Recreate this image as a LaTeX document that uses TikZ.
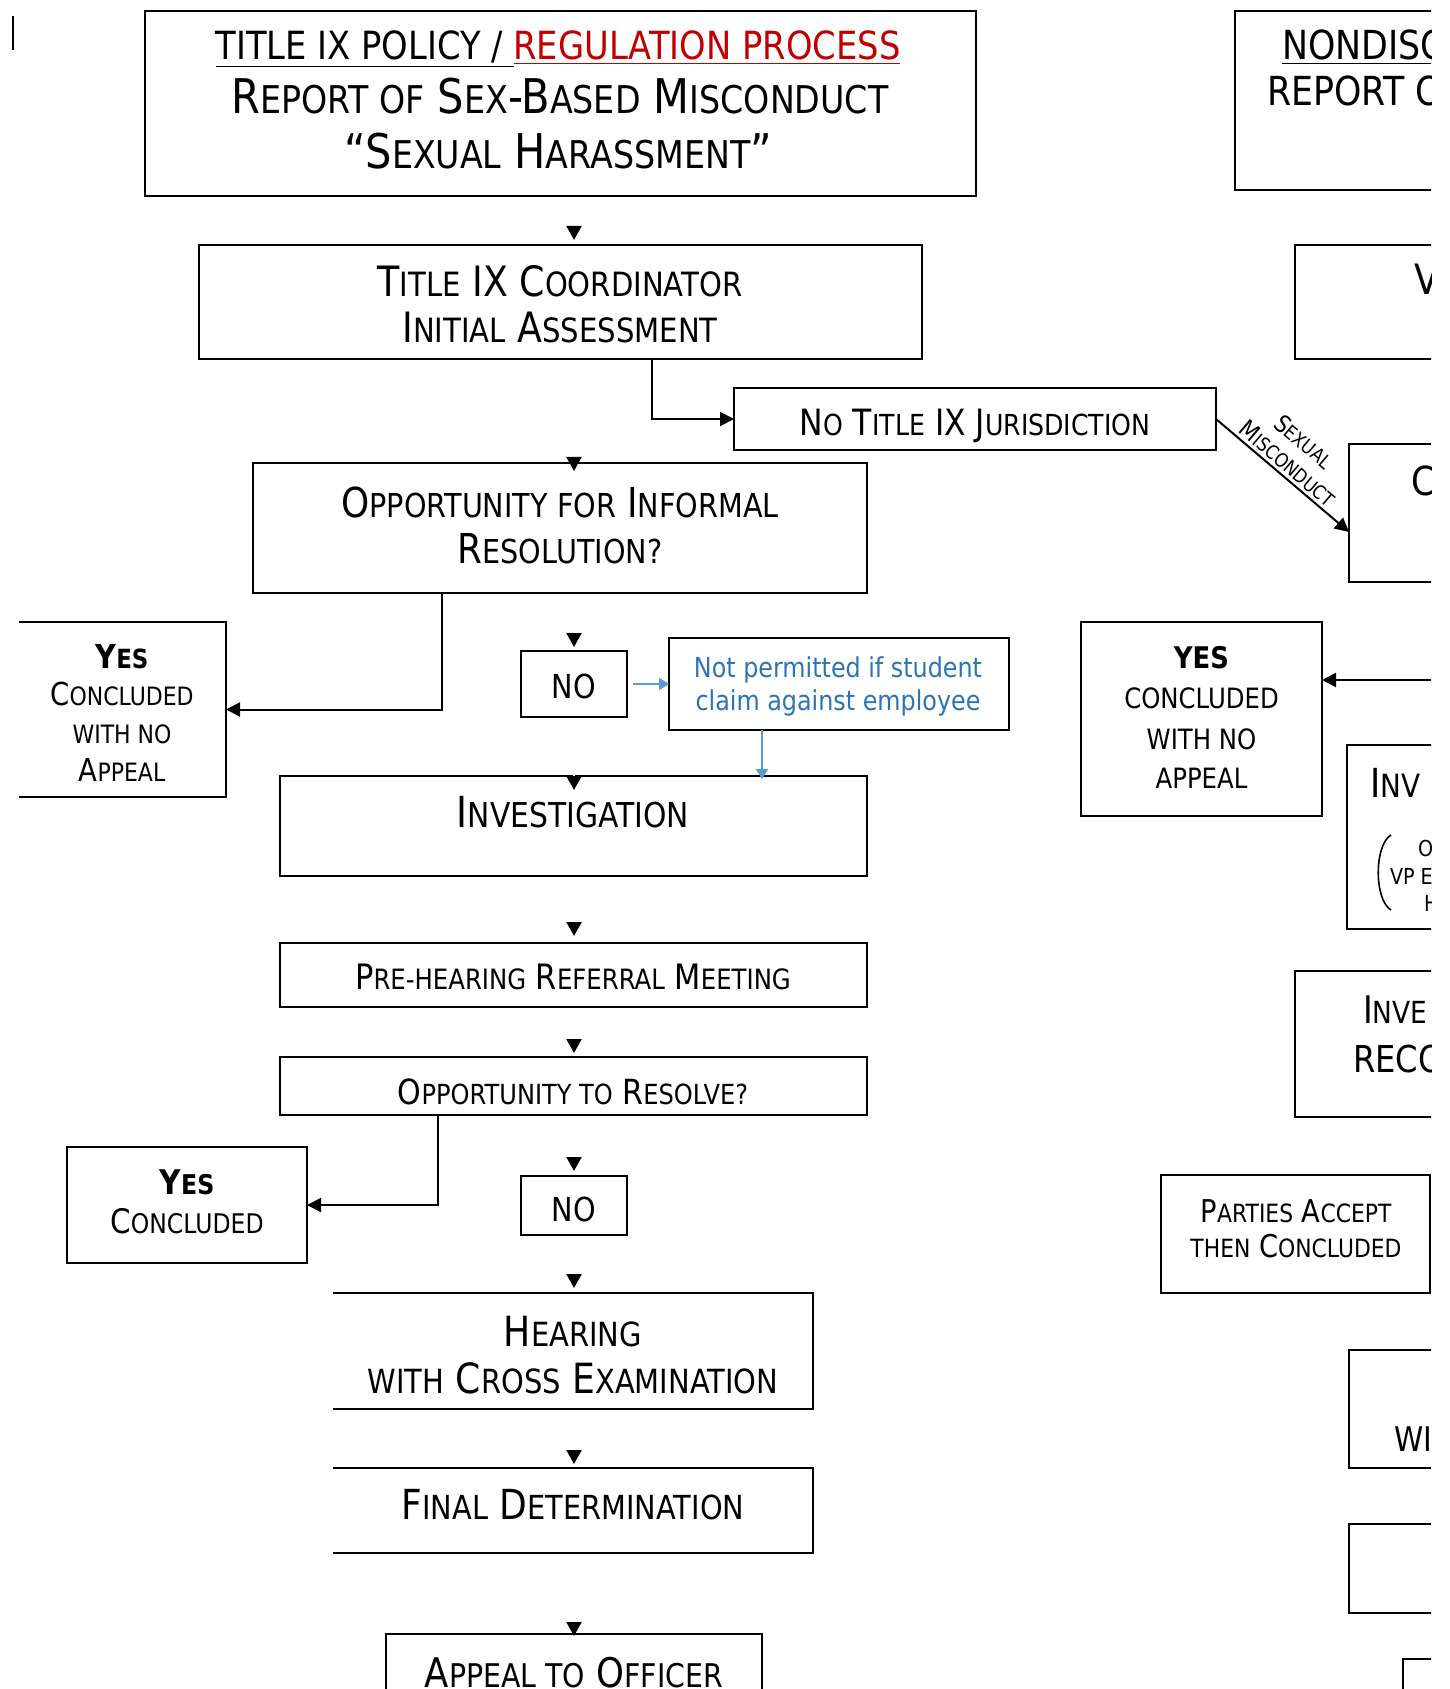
\documentclass[tikz,border=0pt]{standalone}
\usepackage{fontspec}
\setmainfont{DejaVu Sans}[FakeStretch=0.87]
\usepackage{graphicx}
\usetikzlibrary{arrows.meta,calc}
\definecolor{tixred}{RGB}{192,0,0}
\definecolor{tixblue}{RGB}{46,116,181}
\definecolor{arrblue}{RGB}{91,155,213}
\newcommand\sk[1]{\scalebox{0.8}{#1}}
\newcommand\fs[1]{\fontsize{#1}{#1}\selectfont}
\begin{document}
\begin{tikzpicture}[x=0.5pt,y=-0.5pt,
 box/.style={draw, line width=1pt, inner sep=0pt, outer sep=0pt},
 openbox/.style={inner sep=0pt, outer sep=0pt},
 txt/.style={inner sep=0pt, outer sep=0pt, anchor=base},
 txtl/.style={inner sep=0pt, outer sep=0pt, anchor=base west},
 conn/.style={line width=1pt, -{Triangle[length=7pt,width=7pt]}},
 hid/.style={draw=white, line width=1pt, shorten <=2pt, -{Triangle[length=7pt,width=7.5pt,black]}},
 blu/.style={draw=arrblue, line width=1pt, -{Triangle[length=5pt,width=6pt,arrblue]}},
 edge3/.style={line width=1pt}
]
\useasboundingbox (0,0) rectangle (1449,1689);
\fill[white] (0,0) rectangle (1449,1689);
\begin{scope}
\clip (0,0) rectangle (1431,1689);

% cursor bar
\draw[line width=1.2pt] (13,16) -- (13,50);

% helper coordinates
\coordinate (spine) at (574,0);
\coordinate (ex1) at (652,0);
\coordinate (ex2) at (442,0);
\coordinate (ex3) at (438,0);
\coordinate (bx) at (762,0);
\coordinate (rfree) at (1470,680);

% ---------- left column boxes ----------
\node[box, minimum width=415.5pt, minimum height=92.5pt] (title) at (560.5,103.5) {};
\node[box, minimum width=361.5pt, minimum height=57pt] (coord) at (560.5,302) {};
\node[box, minimum width=241pt, minimum height=31pt] (notitle) at (975,419) {};
\node[box, minimum width=307pt, minimum height=65pt] (opp) at (560,528) {};
\node[openbox, minimum width=103.5pt, minimum height=87.5pt] (yes1) at (122.5,709.5) {};
\draw[edge3] (yes1.north west) -- (yes1.north east) -- (yes1.south east) -- (yes1.south west);
\node[box, minimum width=53pt, minimum height=33pt] (no1) at (574,684) {};
\node[box, minimum width=170pt, minimum height=46pt] (notperm) at (839,684) {};
\node[box, minimum width=293.5pt, minimum height=50pt] (inv) at (573.5,826) {};
\node[box, minimum width=293.5pt, minimum height=32pt] (pre) at (573.5,975) {};
\node[box, minimum width=293.5pt, minimum height=29pt] (opp2) at (573.5,1086) {};
\node[box, minimum width=120pt, minimum height=58pt] (yes2) at (187,1205) {};
\node[box, minimum width=53pt, minimum height=29.5pt] (no2) at (574,1205.5) {};
\node[openbox, minimum width=240pt, minimum height=58pt] (hear) at (573,1351) {};
\draw[edge3] (hear.north west) -- (hear.north east) -- (hear.south east) -- (hear.south west);
\node[openbox, minimum width=240pt, minimum height=42.5pt] (final) at (573,1510.5) {};
\draw[edge3] (final.north west) -- (final.north east) -- (final.south east) -- (final.south west);
\node[box, minimum width=188pt, minimum height=33pt] (appeal) at (574,1667) {};

% ---------- right column boxes ----------
\node[box, minimum width=132.5pt, minimum height=89.5pt] (nondisc) at (1367.5,100.5) {};
\node[box, minimum width=102.5pt, minimum height=57pt] (vbox) at (1397.5,302) {};
\node[box, minimum width=75.5pt, minimum height=69pt] (cbox) at (1424.5,513) {};
\node[box, minimum width=120.5pt, minimum height=97pt] (yes3) at (1201.5,719) {};
\node[box, minimum width=76.5pt, minimum height=92pt] (invbox) at (1423.5,837) {};
\node[box, minimum width=102.5pt, minimum height=73pt] (invebox) at (1397.5,1044) {};
\node[box, minimum width=134.5pt, minimum height=59pt] (parties) at (1295.5,1234) {};
\node[box, minimum width=75.5pt, minimum height=59pt] (wibox) at (1424.5,1409) {};
\node[box, minimum width=75.5pt, minimum height=44.5pt] (emptybox) at (1424.5,1568.5) {};
\node[box, minimum width=48.5pt, minimum height=30.5pt] (lastbox) at (1451.5,1689.5) {};

% ---------- texts left ----------
\node[txt, font=\fs{19.4}] (t1a) at (558,60) {\underline{TITLE IX POLICY / }\textcolor{tixred}{\underline{REGULATION PROCESS}}};
\node[txt, font=\fs{23.9}] (t1b) at (560,114) {R\sk{EPORT OF} S\sk{EX}-B\sk{ASED} M\sk{ISCONDUCT}};
\node[txt, font=\fs{23.9}] (t1c) at (558,169) {“S\sk{EXUAL} H\sk{ARASSMENT}”};

\node[txt, font=\fs{20.9}] (c1) at (560,297) {T\sk{ITLE} IX C\sk{OORDINATOR}};
\node[txt, font=\fs{20.9}] (c2) at (560,343) {I\sk{NITIAL} A\sk{SSESSMENT}};

\node[txt, font=\fs{18.1}] (nt) at (975,436) {N\sk{O} T\sk{ITLE} IX J\sk{URISDICTION}};

\node[txt, font=\fs{20.6}] (o1) at (560,517) {O\sk{PPORTUNITY FOR} I\sk{NFORMAL}};
\node[txt, font=\fs{20.6}] (o2) at (560,563) {R\sk{ESOLUTION?}};

\node[txt, font=\fs{16.5}] (y1a) at (122,668) {\textbf{Y\sk{ES}}};
\node[txt, font=\fs{15.8}] (y1b) at (122,705) {C\sk{ONCLUDED}};
\node[txt, font=\fs{15.8}] (y1c) at (122,743) {\sk{WITH NO}};
\node[txt, font=\fs{15.8}] (y1d) at (122,781) {A\sk{PPEAL}};

\node[txt, font=\fs{16.5}] (n1) at (574,698) {NO};
\node[txt, font=\fs{13.7}, text=tixblue] (np1) at (838,677) {Not permitted if student};
\node[txt, font=\fs{13.7}, text=tixblue] (np2) at (838,710) {claim against employee};

\node[txt, font=\fs{21.4}] (ivt) at (573,827) {I\sk{NVESTIGATION}};
\node[txt, font=\fs{17.5}] (prt) at (573,989) {P\sk{RE-HEARING} R\sk{EFERRAL} M\sk{EETING}};
\node[txt, font=\fs{17.3}] (o3) at (573,1104) {O\sk{PPORTUNITY TO} R\sk{ESOLVE?}};

\node[txt, font=\fs{17}] (y2a) at (187,1194) {\textbf{Y\sk{ES}}};
\node[txt, font=\fs{16.9}] (y2b) at (187,1233) {C\sk{ONCLUDED}};

\node[txt, font=\fs{16.5}] (n2) at (574,1221) {NO};

\node[txt, font=\fs{20.8}] (h1) at (573,1346) {H\sk{EARING}};
\node[txt, font=\fs{20.8}] (h2) at (573,1393) {\sk{WITH} C\sk{ROSS} E\sk{XAMINATION}};
\node[txt, font=\fs{20.7}] (f1) at (573,1519) {F\sk{INAL} D\sk{ETERMINATION}};
\node[txt, font=\fs{20.4}] (a1) at (574,1687) {A\sk{PPEAL TO} O\sk{FFICER}};

% ---------- texts right ----------
\node[txtl, font=\fs{20}] (nd1) at (1282,60) {\underline{NONDISC}};
\node[txtl, font=\fs{20}] (nd2) at (1267,106) {REPORT O};
\node[txtl, font=\fs{20.9}] (v1) at (1414,295) {V};
\node[txtl, font=\fs{20}] (cr) at (1411,496) {C};

\node[txt, font=\fs{14.9}] (y3a) at (1201.5,668) {\textbf{YES}};
\node[txt, font=\fs{14}] (y3b) at (1201.5,708) {CONCLUDED};
\node[txt, font=\fs{14}] (y3c) at (1201.5,749) {WITH NO};
\node[txt, font=\fs{14}] (y3d) at (1201.5,788) {APPEAL};

\node[txtl, font=\fs{20}] (in1) at (1370,797) {I\sk{NV}};
\draw[line width=0.8pt] (1391,835) .. controls (1374,845) and (1374,900) .. (1391,910);
\node[txtl, font=\fs{11}] (in2) at (1418,856) {O};
\node[txtl, font=\fs{11}] (in3) at (1390,884) {VP E};
\node[txtl, font=\fs{11}] (in4) at (1424,911) {H};

\node[txtl, font=\fs{19}] (ie1) at (1363,1023) {I\sk{NVE}};
\node[txtl, font=\fs{18.5}] (ie2) at (1353,1072) {RECO};

\node[txt, font=\fs{15.7}] (pa1) at (1296,1222) {P\sk{ARTIES} A\sk{CCEPT}};
\node[txt, font=\fs{15.7}] (pa2) at (1296,1257) {\sk{THEN} C\sk{ONCLUDED}};

\node[txtl, font=\fs{17}] (wi) at (1394,1451) {WI};

% ---------- connectors ----------
\draw[hid, shorten >=2.5pt] (title.south -| spine) -- (coord.north -| spine);
\draw[hid, shorten >=-4pt] (coord.south -| spine) -- (opp.north -| spine);
\draw[hid, shorten >=2pt] (opp.south -| spine) -- (no1.north -| spine);
\draw[hid, shorten >=-7pt] (no1.south -| spine) -- (inv.north -| spine);
\draw[hid, shorten >=3.5pt] (inv.south -| spine) -- (pre.north -| spine);
\draw[hid, shorten >=2pt] (pre.south -| spine) -- (opp2.north -| spine);
\draw[hid, shorten >=2.5pt] (opp2.south -| spine) -- (no2.north -| spine);
\draw[hid, shorten >=2.5pt] (no2.south -| spine) -- (hear.north -| spine);
\draw[hid, shorten >=2pt] (hear.south -| spine) -- (final.north -| spine);
\draw[hid, shorten >=-1pt] (final.south -| spine) -- (appeal.north -| spine);

\draw[conn] (coord.south -| ex1) |- (notitle.west);
\draw[conn] (opp.south -| ex2) |- (yes1.east);
\draw[conn] (opp2.south -| ex3) |- (yes2.east);
\draw[conn] (rfree) -- ([yshift=19.5pt]yes3.east);

\draw[conn] (notitle.east) -- ([yshift=-9.5pt]cbox.west)
  node[pos=0.48, sloped, above=1.5pt, font=\fs{12}, inner sep=0pt] (lm) {M\sk{ISCONDUCT}}
  node[pos=0.47, sloped, above=15pt, font=\fs{12}, inner sep=0pt] (ls) {S\sk{EXUAL}};

\draw[blu, shorten <=3pt] (no1.east) -- (notperm.west);
\draw[blu, shorten >=-1.5pt] (notperm.south -| bx) -- (inv.north -| bx);

\end{scope}
\end{tikzpicture}
\end{document}
